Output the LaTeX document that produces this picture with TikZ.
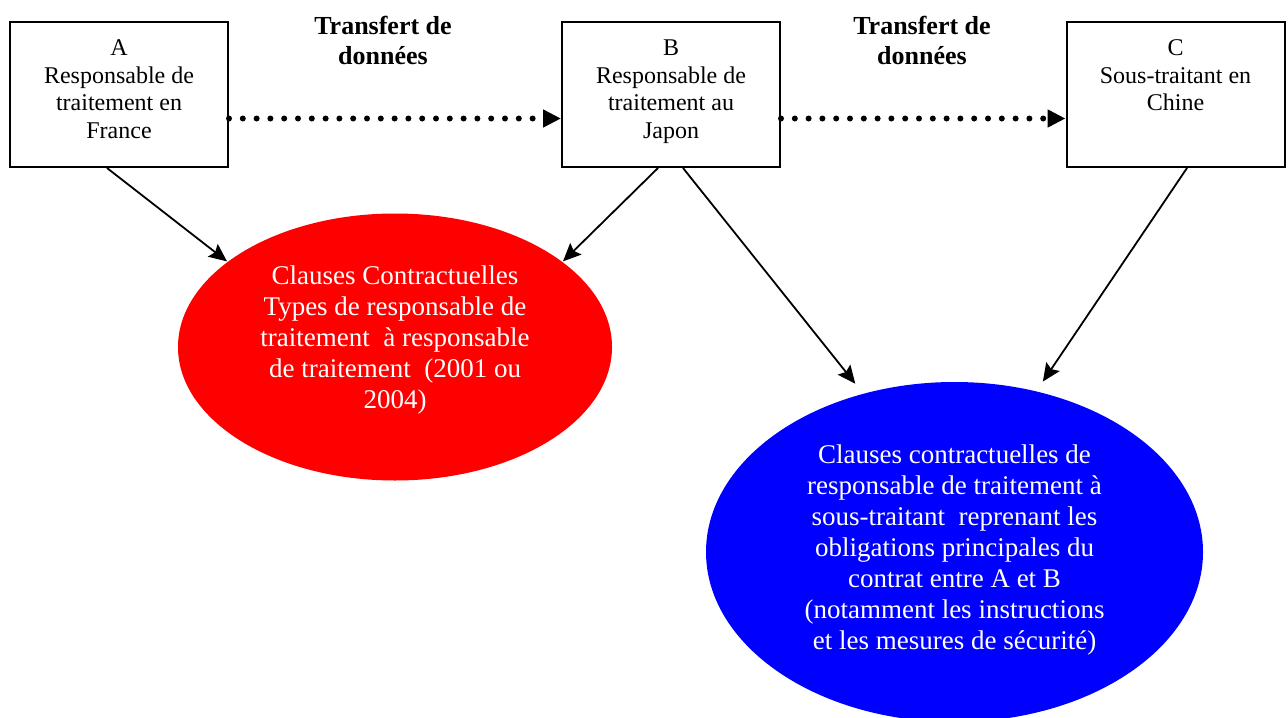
\documentclass[tikz,border=0pt]{standalone}
\usepackage{fontspec}
\setmainfont{Liberation Serif}
\usetikzlibrary{arrows.meta,positioning,shapes.geometric}

\begin{document}
\begin{tikzpicture}[%
        x=0.5pt, y=-0.5pt,
        >={Stealth[length=9pt,width=8pt,inset=1.5pt]},
        line width=0.9pt,
        party/.style={draw, line width=1pt, minimum width=109pt, minimum height=72.5pt, inner sep=0pt},
        partytext/.style={align=center, inner sep=0pt, font=\fontsize{12}{13.8}\selectfont},
        clause/.style={ellipse, inner sep=0pt},
        clausetext/.style={align=center, inner sep=0pt, text=white, font=\fontsize{13.5}{15.5}\selectfont},
        transfer/.style={line width=3pt, dash pattern=on 0pt off 6.9pt, line cap=round, -{Triangle[length=9pt,width=8.5pt]}},
        transfertext/.style={align=center, inner sep=0pt, font=\fontsize{13}{15}\selectfont\bfseries}
        ]
        \useasboundingbox (0,0) rectangle (1288,717);

        \node[party] (A) at (119,94.5) {};
        \node[party] (B) at (671,94.5) {};
        \node[party] (C) at (1175.5,94.5) {};
        \node[partytext, below=9pt of A.north] (Atext) {A\\Responsable de\\traitement en\\France};
        \node[partytext, below=9pt of B.north] (Btext) {B\\Responsable de\\traitement au\\Japon};
        \node[partytext, below=9pt of C.north] (Ctext) {C\\Sous-traitant en\\Chine};

        \node[transfertext] (AB) at (383,40) {Transfert de\\données};
        \node[transfertext] (BC) at (922,40) {Transfert de\\données};

        \node[clause, fill=red, minimum width=217pt, minimum height=133.5pt] (red) at (395,347) {};
        \node[clausetext] (redtext) at (395,340)
            {Clauses Contractuelles\\Types de responsable de\\traitement \ à responsable\\de traitement \ (2001 ou\\2004)};
        \node[clause, fill=blue, minimum width=248.5pt, minimum height=170pt] (blue) at (954.5,552) {};
        \node[clausetext] (bluetext) at (954.5,550)
            {Clauses contractuelles de\\responsable de traitement à\\sous-traitant \ reprenant les\\obligations principales du\\contrat entre A et B\\(notamment les instructions\\et les mesures de sécurité)};

        \path[transfer] ([yshift=-12pt]A.east) edge ([yshift=-12pt]B.west);
        \path[transfer] ([yshift=-12pt]B.east) edge ([yshift=-12pt]C.west);

        \path[->] ([xshift=-6pt]A.south) edge (red.153);
        \path[->] ([xshift=-6.5pt]B.south) edge (red.27);
        \path[->] ([xshift=6pt]B.south) edge[shorten >=6pt] (blue.120);
        \path[->] ([xshift=5.75pt]C.south) edge[shorten >=5.5pt] (blue.63);

    \end{tikzpicture}
\end{document}
